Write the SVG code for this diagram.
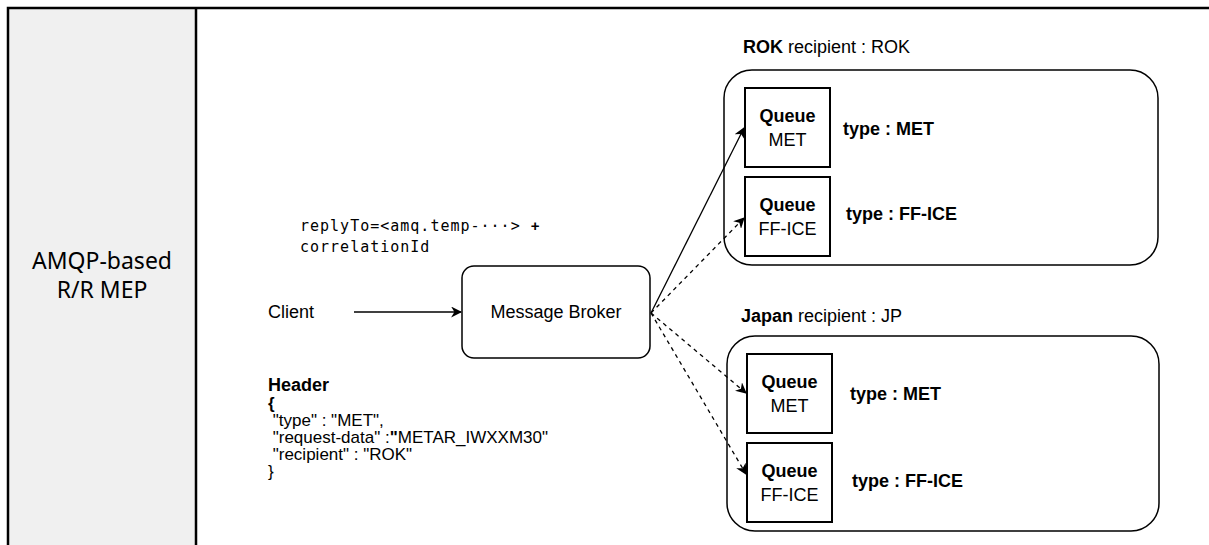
<svg xmlns="http://www.w3.org/2000/svg" width="1209" height="545" viewBox="0 0 1209 545">
<defs>
<style>
.t{font-family:"Liberation Sans",Arial,sans-serif;fill:#000;font-size:18px}
.h{font-family:"Liberation Sans",Arial,sans-serif;fill:#000;font-size:17px}
.b{font-weight:bold}
.box{fill:#fff;stroke:#000;stroke-width:1.5}
.q{fill:#fff;stroke:#000;stroke-width:2}
.c{fill:none;stroke:#000;stroke-width:1.3}
.d{stroke-dasharray:4 4}
.m{font-family:"DejaVu Sans Mono","Liberation Mono",monospace;font-size:15px;letter-spacing:1px}
.side{font-family:"Noto Sans","Open Sans",sans-serif;font-size:23px;fill:#000}
</style>
<marker id="ah" viewBox="0 0 10 10" refX="9" refY="5" markerWidth="11" markerHeight="11" markerUnits="userSpaceOnUse" orient="auto">
<path d="M0,0 L10,5 L0,10 L3,5 Z" fill="#000"/>
</marker>
</defs>
<rect width="1209" height="545" fill="#fff"/>
<g id="frame">
<rect x="8" y="8" width="188" height="540" fill="#f0f0f0"/>
<path d="M8,548 V8 H1212 M196,8 V548" fill="none" stroke="#000" stroke-width="2.5"/>
<text class="side" x="102" y="269" text-anchor="middle">AMQP-based</text>
<text class="side" x="102" y="298" text-anchor="middle">R/R MEP</text>
</g>
<g id="reply-label">
<text class="m" x="300" y="231">replyTo=&lt;amq.temp-···&gt; <tspan font-weight="bold" style="font-family:'Liberation Sans',sans-serif">+</tspan></text>
<text class="m" x="300" y="252">correlationId</text>
</g>
<g id="client">
<text class="t" x="268" y="318">Client</text>
</g>
<g id="broker">
<rect class="box" x="462" y="266" width="188" height="92" rx="12"/>
<text class="t" x="556" y="318" text-anchor="middle">Message Broker</text>
</g>
<g id="header">
<text class="t b" x="268" y="391">Header</text>
<text class="h b" x="268" y="409">{</text>
<text class="h" x="268" y="426" xml:space="preserve"> "type" : "MET",</text>
<text class="h" x="268" y="443" xml:space="preserve"> "request-data" :<tspan font-weight="bold">"</tspan>METAR_IWXXM30"</text>
<text class="h" x="268" y="460" xml:space="preserve"> "recipient" : "ROK"</text>
<text class="h" x="268" y="477">}</text>
</g>
<g id="rok">
<text class="t" x="743" y="53"><tspan font-weight="bold">ROK</tspan> recipient : ROK</text>
<rect class="box" x="724" y="70" width="434" height="195" rx="28"/>
</g>
<g id="rok-met">
<rect class="q" x="745" y="88" width="85" height="79"/>
<text class="t b" x="787.5" y="122" text-anchor="middle">Queue</text>
<text class="t" x="787.5" y="146" text-anchor="middle">MET</text>
<text class="t b" x="843" y="135">type : MET</text>
</g>
<g id="rok-fface">
<rect class="q" x="745" y="177" width="85" height="79"/>
<text class="t b" x="787.5" y="211" text-anchor="middle">Queue</text>
<text class="t" x="787.5" y="235" text-anchor="middle">FF-ICE</text>
<text class="t b" x="846" y="220">type : FF-ICE</text>
</g>
<g id="jp">
<text class="t" x="741" y="322"><tspan font-weight="bold">Japan</tspan> recipient : JP</text>
<rect class="box" x="727" y="336" width="432" height="195" rx="28"/>
</g>
<g id="jp-met">
<rect class="q" x="747" y="354" width="85" height="79"/>
<text class="t b" x="789.5" y="388" text-anchor="middle">Queue</text>
<text class="t" x="789.5" y="412" text-anchor="middle">MET</text>
<text class="t b" x="850" y="400">type : MET</text>
</g>
<g id="jp-fface">
<rect class="q" x="747" y="443" width="85" height="79"/>
<text class="t b" x="789.5" y="477" text-anchor="middle">Queue</text>
<text class="t" x="789.5" y="501" text-anchor="middle">FF-ICE</text>
<text class="t b" x="852" y="487">type : FF-ICE</text>
</g>
<g id="connectors">
<line class="c" x1="354" y1="312" x2="461" y2="312" marker-end="url(#ah)"/>
<line class="c" x1="651" y1="313" x2="744" y2="128" marker-end="url(#ah)"/>
<line class="c d" x1="651" y1="313" x2="744" y2="218" marker-end="url(#ah)"/>
<line class="c d" x1="651" y1="313" x2="746" y2="393" marker-end="url(#ah)"/>
<line class="c d" x1="651" y1="313" x2="746" y2="474" marker-end="url(#ah)"/>
</g>
</svg>
